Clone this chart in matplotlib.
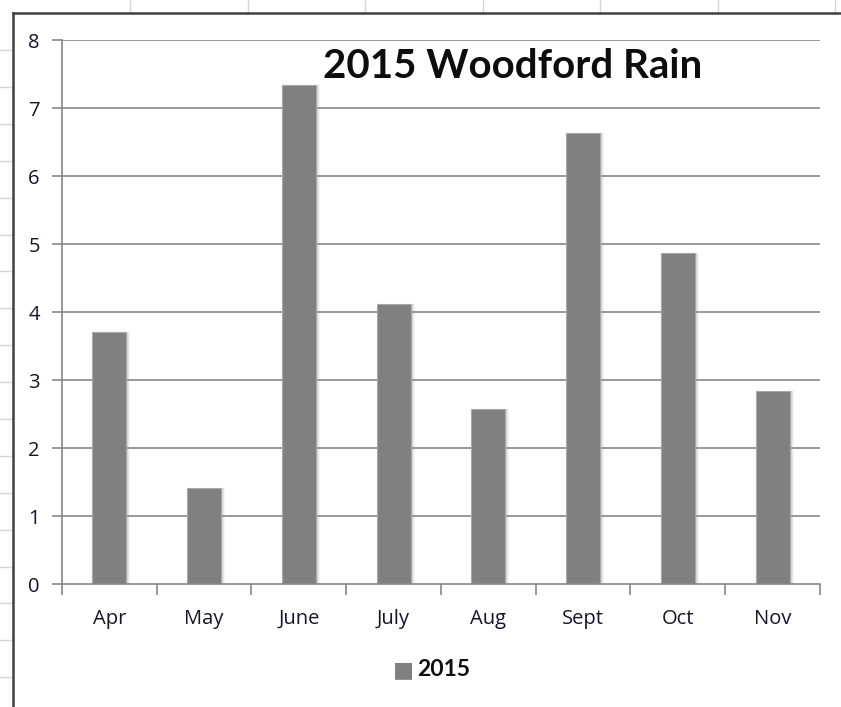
import matplotlib
matplotlib.use("Agg")
import matplotlib.pyplot as plt
import matplotlib.transforms as mtransforms
from matplotlib.lines import Line2D

months = ["Apr", "May", "June", "July", "Aug", "Sept", "Oct", "Nov"]
rain_2015 = [3.70, 1.41, 7.34, 4.12, 2.57, 6.63, 4.87, 2.84]
yticks = [0, 1, 2, 3, 4, 5, 6, 7, 8]
series_name = "2015"
title = "2015 Woodford Rain"

W, H = 841, 707
fig = plt.figure(figsize=(W / 100, H / 100), dpi=100)
fig.patch.set_facecolor("white")

# spreadsheet background gridlines
for x in [130, 248, 365, 483, 600, 718, 835]:
    fig.add_artist(Line2D([x / W, x / W], [1, 1 - 13 / H], color="#d4d4d4", lw=1))
y = 50
while y < H:
    fig.add_artist(Line2D([0, 12 / W], [1 - y / H, 1 - y / H], color="#d4d4d4", lw=1))
    y += 36.9
# chart border
fig.add_artist(Line2D([13 / W, 1], [1 - 13 / H, 1 - 13 / H], color="#404040", lw=1.8))
fig.add_artist(Line2D([13 / W, 13 / W], [0, 1 - 13 / H], color="#404040", lw=1.8))

left, right, top, bottom = 62, 820, 40, 584
ax = fig.add_axes([left / W, 1 - bottom / H, (right - left) / W, (bottom - top) / H])
ax.set_facecolor("none")

xs = list(range(len(months)))
bw = 0.36
# soft shadow
for dx, a in [(4, 0.10), (3, 0.14), (2, 0.18)]:
    tr = mtransforms.offset_copy(ax.transData, fig=fig, x=dx, y=0, units="dots")
    ax.bar(xs, rain_2015, width=bw, color="#9a9a9a", alpha=a, transform=tr, zorder=2, linewidth=0)
ax.bar(xs, rain_2015, width=bw, color="#808080", edgecolor="#a8a8a8", linewidth=0.8, zorder=3)

ax.set_xlim(-0.5, len(months) - 0.5)
ax.set_ylim(0, 8)
ax.set_yticks(yticks)
ax.set_yticklabels([str(v) for v in yticks])
ax.set_xticks(xs)
ax.set_xticklabels(months)
ax.set_xticks([i - 0.5 for i in range(len(months) + 1)], minor=True)

for v in yticks[1:]:
    ax.axhline(v, color="#888888", lw=1.2, zorder=1)

for s in ["top", "right"]:
    ax.spines[s].set_visible(False)
for s in ["left", "bottom"]:
    ax.spines[s].set_color("#888888")
    ax.spines[s].set_linewidth(1.2)
ax.spines["bottom"].set_zorder(4)

ax.tick_params(axis="y", length=7, width=1.2, color="#888888", pad=9)
ax.tick_params(axis="x", which="major", length=0, pad=18)
ax.tick_params(axis="x", which="minor", length=8, width=1.2, color="#888888")
for lab in ax.get_xticklabels() + ax.get_yticklabels():
    lab.set_fontfamily(["Open Sans", "DejaVu Sans"])
    lab.set_fontsize(14.5)
    lab.set_color("#14142a")
    lab.set_fontweight("medium")

fig.text(513 / W, 1 - 67 / H, title, fontsize=29, fontweight="bold", family="Lato",
         ha="center", va="center", color="#0d0d0d")

# legend
fig.text(403 / W, 1 - 670 / H, "\u25A0", fontsize=16, color="#808080", family="DejaVu Sans",
         ha="center", va="center")
fig.text(417 / W, 1 - 670 / H, series_name, fontsize=16.5, fontweight="bold", family="Lato",
         ha="left", va="center", color="#0d0d0d")

fig.savefig("out.png", dpi=100)
